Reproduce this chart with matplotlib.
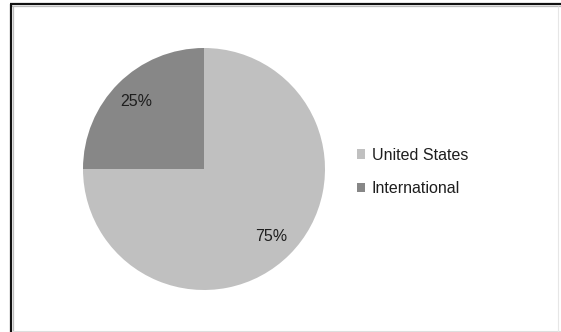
import matplotlib
matplotlib.use('Agg')
import matplotlib.pyplot as plt
from matplotlib.lines import Line2D

# Share of revenue by region
labels = ['United States', 'International']
shares = [75, 25]
colors = ['#c0c0c0', '#878787']

W, H = 561, 332
plt.rcParams['font.family'] = ['Liberation Sans', 'DejaVu Sans']

fig = plt.figure(figsize=(W / 100, H / 100), dpi=100)
fig.patch.set_facecolor('white')

# Pie axes sized in pixels: centre (204, 169), radius 121
cx, cy, r = 204, 169, 121
ax = fig.add_axes([(cx - r) / W, (H - cy - r) / H, 2 * r / W, 2 * r / H])
wedges, texts, autotexts = ax.pie(
    shares, colors=colors, startangle=90, counterclock=False,
    autopct='%d%%', pctdistance=0.79,
    textprops={'fontsize': 11.5, 'color': '#1e1e1e'},
)
ax.set_xlim(-1, 1)
ax.set_ylim(-1, 1)
ax.set_aspect('equal')
ax.axis('off')

fig.legend(
    wedges, labels, loc='center left',
    bbox_to_anchor=(356.5 / W, (H - 172) / H),
    frameon=False, fontsize=11.5, borderpad=0, borderaxespad=0,
    handlelength=0.52, handleheight=0.52, handletextpad=0.42,
    labelspacing=1.15, labelcolor='#1e1e1e',
)

# Framed box: dark top/left edge, light bottom/right edge
def px_line(x0, y0, x1, y1, color, lw):
    fig.add_artist(Line2D([x0 / W, x1 / W], [1 - y0 / H, 1 - y1 / H],
                          transform=fig.transFigure, color=color, lw=lw,
                          solid_capstyle='butt'))

px_line(10, 4.3, 561, 4.3, '#111111', 1.6)
px_line(11, 6.3, 561, 6.3, '#bdbdbd', 0.9)
px_line(10.8, 3.5, 10.8, 332, '#111111', 1.6)
px_line(12.6, 6, 12.6, 332, '#bdbdbd', 0.9)
px_line(12, 330.5, 561, 330.5, '#dedede', 0.8)
px_line(557.5, 6, 557.5, 332, '#e6e6e6', 0.8)

fig.savefig('out.png', dpi=100)
